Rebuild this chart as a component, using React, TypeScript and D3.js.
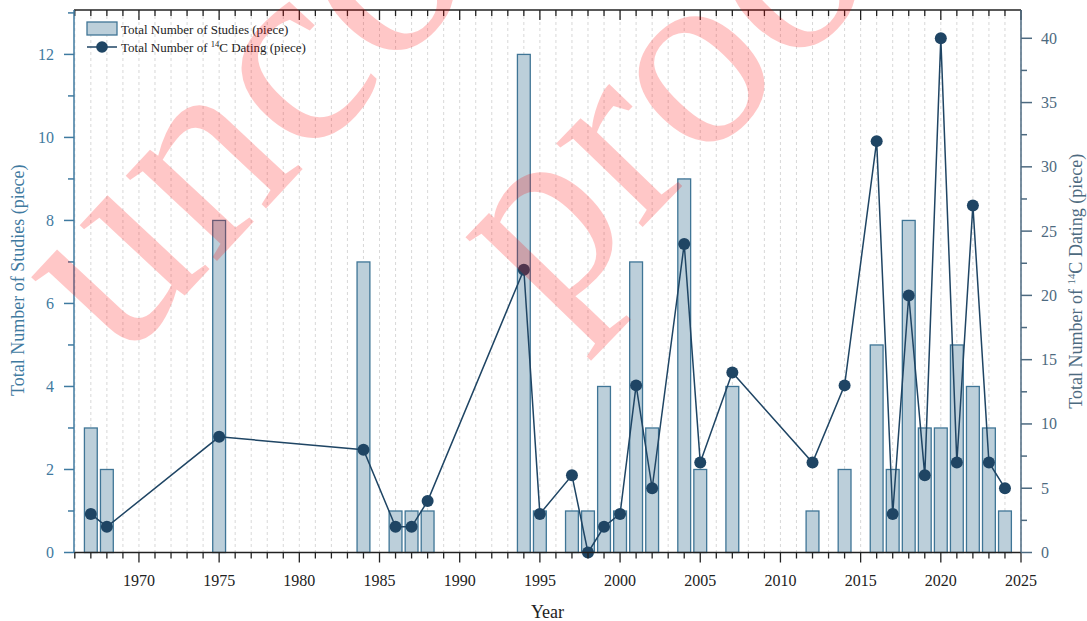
import React from "react";
import * as d3 from "d3";

const years = [1967, 1968, 1975, 1984, 1986, 1987, 1988, 1994, 1995, 1997, 1998, 1999, 2000, 2001, 2002, 2004, 2005, 2007, 2012, 2014, 2016, 2017, 2018, 2019, 2020, 2021, 2022, 2023, 2024];
const studies = [3, 2, 8, 7, 1, 1, 1, 12, 1, 1, 1, 4, 1, 7, 3, 9, 2, 4, 1, 2, 5, 2, 8, 3, 3, 5, 4, 3, 1];
const dating = [3, 2, 9, 8, 2, 2, 4, 22, 3, 6, 0, 2, 3, 13, 5, 24, 7, 14, 7, 13, 32, 3, 20, 6, 40, 7, 27, 7, 5];
const xTickLabels = [1970, 1975, 1980, 1985, 1990, 1995, 2000, 2005, 2010, 2015, 2020, 2025];
const leftTicks = [0, 2, 4, 6, 8, 10, 12];
const rightTicks = [0, 5, 10, 15, 20, 25, 30, 35, 40];

const W = 1087, H = 621;
const L = 74, R = 1021, T = 10, B = 552.5;

const leftColor = "#3f7aa0";
const rightColor = "#4d6a80";
const lineColor = "#1f4564";
const barFill = "#bccfda";
const barStroke = "#3f7596";
const serif = "'Liberation Serif', 'Times New Roman', serif";

export default function App() {
  const x = d3.scaleLinear().domain([1965.95, 2025]).range([L, R]);
  const yL = d3.scaleLinear().domain([0, 13.07]).range([B, T]);
  const yR = d3.scaleLinear().domain([0, 42.2]).range([B, T]);
  const barW = x(1966.8) - x(1966);

  const allYears = d3.range(1966, 2026);
  const leftMinor = d3.range(1, 13.5, 2);
  const rightMinor = d3.range(2.5, 42, 5);

  const line = d3.line<number>().x((_, i) => x(years[i])).y((d) => yR(d));

  return (
    <svg width={W} height={H} style={{ position: "absolute", left: 0, top: 0, background: "#fff" }} fontFamily={serif}>
      <rect x={0} y={0} width={W} height={H} fill="#fff" />
      {/* grid */}
      {allYears.map((yr) => (
        <line key={"g" + yr} x1={x(yr)} x2={x(yr)} y1={T} y2={B} stroke="#d4d4d4" strokeWidth={0.9} strokeDasharray="3,3" />
      ))}
      {/* bars */}
      {years.map((yr, i) => (
        <rect key={"b" + yr} x={x(yr) - barW / 2} y={yL(studies[i])} width={barW} height={B - yL(studies[i])} fill={barFill} stroke={barStroke} strokeWidth={1.3} />
      ))}
      {/* line */}
      <path d={line(dating) || ""} fill="none" stroke={lineColor} strokeWidth={1.5} />
      {dating.map((d, i) => (
        <circle key={"c" + i} cx={x(years[i])} cy={yR(d)} r={6} fill={lineColor} />
      ))}

      {/* top axis */}
      <line x1={L} x2={R} y1={T} y2={T} stroke="#222" strokeWidth={1.5} />
      {allYears.map((yr) => (
        <line key={"tt" + yr} x1={x(yr)} x2={x(yr)} y1={T} y2={T + (yr % 5 === 0 ? 10 : 6)} stroke="#222" strokeWidth={1.3} />
      ))}
      {/* bottom axis */}
      <line x1={L} x2={R} y1={B} y2={B} stroke="#222" strokeWidth={1.5} />
      {allYears.map((yr) => (
        <line key={"bt" + yr} x1={x(yr)} x2={x(yr)} y1={B} y2={B + (yr % 5 === 0 ? 10 : 6)} stroke="#222" strokeWidth={1.3} />
      ))}
      {xTickLabels.map((yr) => (
        <text key={"bl" + yr} x={x(yr)} y={586} textAnchor="middle" fontSize={16} fill="#222">{yr}</text>
      ))}
      <text x={(L + R) / 2} y={618} textAnchor="middle" fontSize={18} fill="#222">Year</text>

      {/* left axis */}
      <line x1={L} x2={L} y1={T} y2={B} stroke={leftColor} strokeWidth={1.5} />
      {leftTicks.map((v) => (
        <g key={"lt" + v}>
          <line x1={L - 10} x2={L} y1={yL(v)} y2={yL(v)} stroke={leftColor} strokeWidth={1.5} />
          <text x={54} y={yL(v) + 5.5} textAnchor="end" fontSize={16} fill={leftColor}>{v}</text>
        </g>
      ))}
      {leftMinor.map((v) => (
        <line key={"lm" + v} x1={L - 6} x2={L} y1={yL(v)} y2={yL(v)} stroke={leftColor} strokeWidth={1.5} />
      ))}
      <text transform={`translate(24,${(T + B) / 2 - 1}) rotate(-90)`} textAnchor="middle" fontSize={18} fill={leftColor}>Total Number of Studies (piece)</text>

      {/* right axis */}
      <line x1={R} x2={R} y1={T} y2={B} stroke={rightColor} strokeWidth={1.5} />
      {rightTicks.map((v) => (
        <g key={"rt" + v}>
          <line x1={R} x2={R + 11} y1={yR(v)} y2={yR(v)} stroke={rightColor} strokeWidth={1.5} />
          <text x={1041} y={yR(v) + 5.5} textAnchor="start" fontSize={16} fill={rightColor}>{v}</text>
        </g>
      ))}
      {rightMinor.map((v) => (
        <line key={"rm" + v} x1={R} x2={R + 6} y1={yR(v)} y2={yR(v)} stroke={rightColor} strokeWidth={1.5} />
      ))}
      <text transform={`translate(1082,${(T + B) / 2}) rotate(-90)`} textAnchor="middle" fontSize={18} fill={rightColor}>
        Total Number of <tspan fontSize={11} dy={-7}>14</tspan><tspan dy={7}>C Dating (piece)</tspan>
      </text>

      {/* legend */}
      <rect x={87} y={22} width={30} height={13} fill={barFill} stroke={barStroke} strokeWidth={1.3} />
      <text x={121} y={33.5} fontSize={13} fill="#222">Total Number of Studies (piece)</text>
      <line x1={87} x2={117} y1={47} y2={47} stroke={lineColor} strokeWidth={1.5} />
      <circle cx={102} cy={47} r={5.8} fill={lineColor} />
      <text x={121} y={51.5} fontSize={13} fill="#222">
        Total Number of <tspan fontSize={8.5} dy={-5}>14</tspan><tspan dy={5}>C Dating (piece)</tspan>
      </text>

      {/* watermark */}
      <g fill="rgb(255,0,0)" fillOpacity={0.22} style={{ pointerEvents: "none" }}>
        <text transform="translate(120,365) rotate(-47)" fontSize={272}>uncorrected</text>
        <text transform="translate(548,325) rotate(-46)" fontSize={262}>proof</text>
      </g>
    </svg>
  );
}
